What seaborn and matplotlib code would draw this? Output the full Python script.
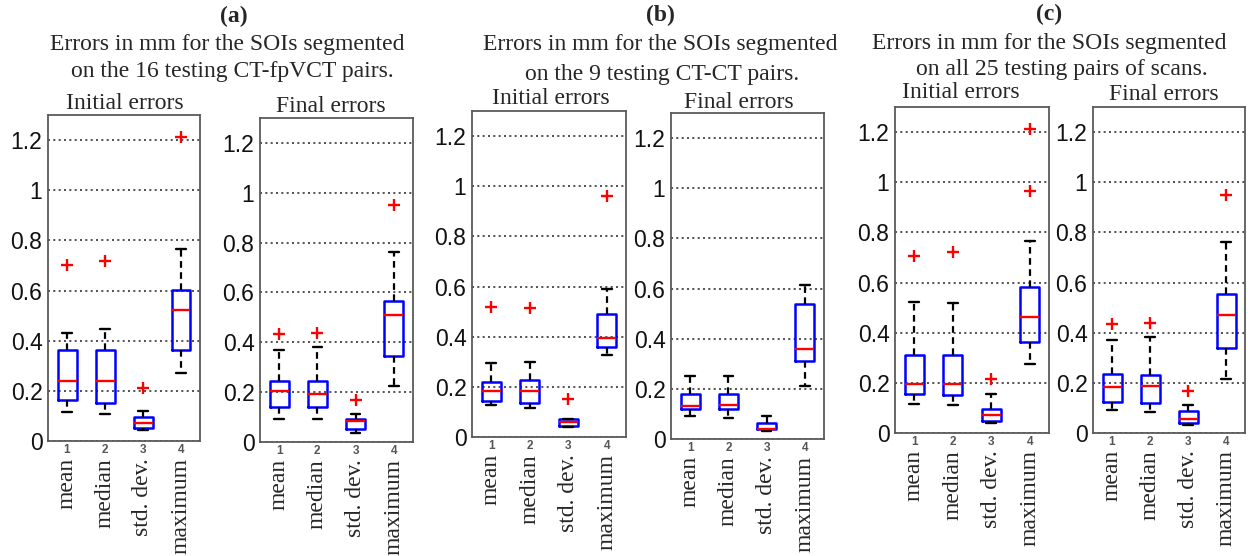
import numpy as np
import pandas as pd
import matplotlib
matplotlib.use("Agg")
import matplotlib.pyplot as plt
import seaborn as sns

# Categories on every panel and their short index labels
STATS = ["mean", "median", "std. dev.", "maximum"]
TICK_NUMS = ["1", "2", "3", "4"]
Y_TICKS = [0, 0.2, 0.4, 0.6, 0.8, 1.0, 1.2]
Y_TICK_LABELS = ["0", "0.2", "0.4", "0.6", "0.8", "1", "1.2"]

# Five-number summaries per statistic:
# [lower whisker, Q1, median, Q3, upper whisker]
a_initial = [
    [0.117, 0.165, 0.238, 0.362, 0.432],
    [0.109, 0.150, 0.238, 0.362, 0.448],
    [0.045, 0.053, 0.073, 0.097, 0.120],
    [0.273, 0.364, 0.524, 0.602, 0.766],
]
a_initial_out_stat = ["mean", "median", "std. dev.", "maximum"]
a_initial_out_val = [0.702, 0.719, 0.213, 1.213]

a_final = [
    [0.093, 0.139, 0.203, 0.246, 0.370],
    [0.091, 0.139, 0.194, 0.243, 0.382],
    [0.036, 0.052, 0.085, 0.093, 0.111],
    [0.223, 0.346, 0.511, 0.565, 0.762],
]
a_final_out_stat = ["mean", "median", "std. dev.", "maximum"]
a_final_out_val = [0.433, 0.438, 0.170, 0.949]

b_initial = [
    [0.127, 0.143, 0.184, 0.220, 0.297],
    [0.117, 0.134, 0.184, 0.226, 0.300],
    [0.041, 0.044, 0.061, 0.070, 0.070],
    [0.326, 0.360, 0.393, 0.491, 0.592],
]
b_initial_out_stat = ["mean", "median", "std. dev.", "maximum"]
b_initial_out_val = [0.519, 0.515, 0.151, 0.962]

b_final = [
    [0.091, 0.119, 0.131, 0.181, 0.253],
    [0.082, 0.119, 0.135, 0.181, 0.253],
    [0.032, 0.038, 0.041, 0.062, 0.091],
    [0.213, 0.311, 0.359, 0.538, 0.616],
]
b_final_out_stat = []
b_final_out_val = []

c_initial = [
    [0.117, 0.156, 0.197, 0.313, 0.521],
    [0.110, 0.153, 0.197, 0.313, 0.519],
    [0.041, 0.048, 0.070, 0.097, 0.154],
    [0.274, 0.362, 0.463, 0.584, 0.765],
]
c_initial_out_stat = ["mean", "median", "std. dev.", "maximum", "maximum"]
c_initial_out_val = [0.705, 0.721, 0.214, 0.965, 1.213]

c_final = [
    [0.092, 0.125, 0.184, 0.237, 0.371],
    [0.082, 0.121, 0.188, 0.233, 0.382],
    [0.031, 0.039, 0.057, 0.089, 0.110],
    [0.214, 0.339, 0.471, 0.555, 0.763],
]
c_final_out_stat = ["mean", "median", "std. dev.", "maximum"]
c_final_out_val = [0.435, 0.439, 0.169, 0.951]

GROUP_TAGS = ["(a)", "(b)", "(c)"]
GROUP_LINE1 = ["Errors in mm for the SOIs segmented"] * 3
GROUP_LINE2 = ["on the 16 testing CT-fpVCT pairs.",
               "on the 9 testing CT-CT pairs.",
               "on all 25 testing pairs of scans."]
PANEL_TITLES = ["Initial errors", "Final errors"]

sns.set_style("white")
plt.rcParams["font.family"] = ["Liberation Sans", "DejaVu Sans"]

W, H = 1248, 556
fig = plt.figure(figsize=(W / 100, H / 100), dpi=100)
SERIF = ["Liberation Serif", "DejaVu Serif"]


def rect(x0, y0, x1, y1):
    return [x0 / W, 1 - y1 / H, (x1 - x0) / W, (y1 - y0) / H]


def ftext(x, y, s, **kw):
    fig.text(x / W, 1 - y / H, s, ha="center", va="center",
             family=SERIF, fontsize=17, **kw)


def draw_panel(ax, boxes, out_stat, out_val):
    long = pd.DataFrame({
        "stat": np.repeat(STATS, 5),
        "value": np.concatenate(boxes),
    })
    ax.set_axisbelow(True)
    ax.yaxis.grid(True, linestyle=(0, (1.2, 2.0)), color="#333333", linewidth=1.2)
    ax.xaxis.grid(False)
    sns.boxplot(data=long, x="stat", y="value", order=STATS, ax=ax,
                whis=(0, 100), width=0.5, fill=False, color="blue",
                linewidth=1.8, showfliers=False,
                boxprops=dict(color="blue", linewidth=1.8),
                medianprops=dict(color="red", linewidth=1.7),
                whiskerprops=dict(color="black", linestyle=(0, (3, 2)), linewidth=1.6),
                capprops=dict(color="black", linewidth=1.7))
    if out_val:
        outs = pd.DataFrame({"stat": out_stat, "value": out_val})
        sns.stripplot(data=outs, x="stat", y="value", order=STATS, ax=ax,
                      jitter=False, marker="+", color="red", size=9,
                      linewidth=1.7)
    ax.set_xlim(-0.5, 3.5)
    ax.set_ylim(0, 1.3)
    ax.set_xlabel("")
    ax.set_ylabel("")
    ax.set_yticks(Y_TICKS)
    ax.set_yticklabels(Y_TICK_LABELS, fontsize=16.5, color="#111111")
    ax.set_xticks(range(len(STATS)))
    ax.set_xticklabels(TICK_NUMS, fontsize=8.5, color="#555555",
                       fontweight="bold")
    ax.tick_params(axis="both", length=0)
    ax.tick_params(axis="y", pad=4)
    ax.tick_params(axis="x", pad=2)
    for sp in ax.spines.values():
        sp.set_color("#5a5a5a")
        sp.set_linewidth(1.3)
    for i, s in enumerate(STATS):
        ax.annotate(s, xy=(i, 0), xycoords=("data", "axes fraction"),
                    xytext=(0, -12.5), textcoords="offset points",
                    rotation=90, ha="center", va="top",
                    family=SERIF, fontsize=17)


panels = [
    (a_initial, a_initial_out_stat, a_initial_out_val, (48, 115, 200, 441)),
    (a_final, a_final_out_stat, a_final_out_val, (260, 118, 413, 442)),
    (b_initial, b_initial_out_stat, b_initial_out_val, (472, 111, 626, 437)),
    (b_final, b_final_out_stat, b_final_out_val, (671, 113, 824, 439)),
    (c_initial, c_initial_out_stat, c_initial_out_val, (895, 107, 1049, 433)),
    (c_final, c_final_out_stat, c_final_out_val, (1093, 107, 1245, 433)),
]

for boxes, ost, oval, r in panels:
    ax = fig.add_axes(rect(*r))
    draw_panel(ax, boxes, ost, oval)

# Group headings and panel titles
tag_pos = [(234, 16), (660, 15), (1049, 14)]
line1_pos = [(227, 45), (660, 45), (1049, 44)]
line2_pos = [(232, 72), (662, 74), (1062, 70)]
title_pos = [[(125, 104), (331, 107)], [(551, 99), (739, 102)], [(961, 93), (1164, 94)]]

for g in range(3):
    ftext(*tag_pos[g], GROUP_TAGS[g], fontweight="bold")
    ftext(*line1_pos[g], GROUP_LINE1[g])
    ftext(*line2_pos[g], GROUP_LINE2[g])
    for k in range(2):
        ftext(*title_pos[g][k], PANEL_TITLES[k])

fig.savefig("out.png", dpi=100)
